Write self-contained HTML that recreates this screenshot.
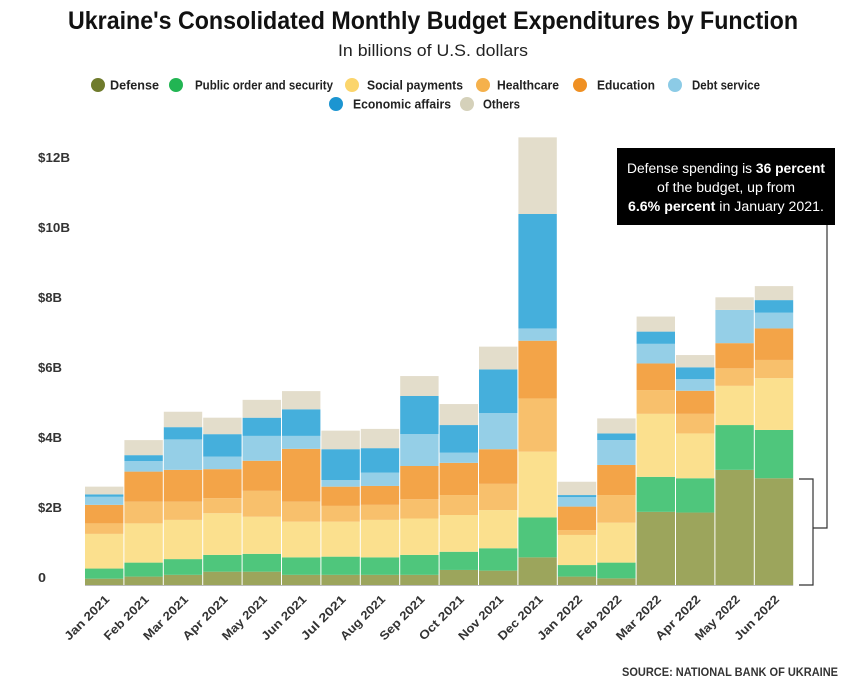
<!DOCTYPE html>
<html><head><meta charset="utf-8">
<style>
html,body{margin:0;padding:0;background:#fff;}
svg{display:block;font-family:"Liberation Sans Narrow","Liberation Sans",sans-serif;}
</style></head>
<body>
<svg id="chart" width="865" height="685" viewBox="0 0 865 685">
  <text x="433" y="29" text-anchor="middle" font-size="25" font-weight="bold" fill="#111" textLength="730" lengthAdjust="spacingAndGlyphs">Ukraine's Consolidated Monthly Budget Expenditures by Function</text>
  <text x="433" y="56" text-anchor="middle" font-size="17" fill="#222" textLength="190" lengthAdjust="spacingAndGlyphs">In billions of U.S. dollars</text>
  <g id="legend"></g>
  <g id="yaxis"></g>
  <g id="bars"></g>
  <g id="xaxis"></g>
  <g>
    <rect x="617" y="148" width="218" height="77" fill="#000"/>
    <text x="726" y="173" text-anchor="middle" font-size="13.5" fill="#fff" textLength="198" lengthAdjust="spacingAndGlyphs">Defense spending is <tspan font-weight="bold">36 percent</tspan></text>
    <text x="726" y="192" text-anchor="middle" font-size="13.5" fill="#fff" textLength="138" lengthAdjust="spacingAndGlyphs">of the budget, up from</text>
    <text x="726" y="211" text-anchor="middle" font-size="13.5" fill="#fff" textLength="196" lengthAdjust="spacingAndGlyphs"><tspan font-weight="bold">6.6% percent</tspan> in January 2021.</text>
    <polyline points="827,225 827,528 813,528" fill="none" stroke="#333" stroke-width="1.2"/>
    <polyline points="799,479 813,479 813,585 799,585" fill="none" stroke="#333" stroke-width="1.2"/>
  </g>
  <text x="838" y="676" text-anchor="end" font-size="12" font-weight="bold" fill="#333" textLength="216" lengthAdjust="spacingAndGlyphs">SOURCE: NATIONAL BANK OF UKRAINE</text>
</svg>
<script>
const months = ["Jan 2021","Feb 2021","Mar 2021","Apr 2021","May 2021","Jun 2021","Jul 2021","Aug 2021","Sep 2021","Oct 2021","Nov 2021","Dec 2021","Jan 2022","Feb 2022","Mar 2022","Apr 2022","May 2022","Jun 2022"];
const defense  = [0.18,0.24,0.29,0.38,0.38,0.29,0.29,0.29,0.29,0.43,0.41,0.79,0.24,0.19,2.09,2.07,3.29,3.05];
const publicOrder = [0.29,0.40,0.45,0.48,0.51,0.50,0.52,0.50,0.57,0.52,0.64,1.14,0.33,0.45,1.00,0.98,1.28,1.38];
const social   = [0.99,1.12,1.12,1.19,1.06,1.02,1.00,1.07,1.04,1.05,1.09,1.88,0.86,1.14,1.80,1.28,1.12,1.48];
const health   = [0.30,0.62,0.52,0.43,0.74,0.57,0.45,0.43,0.55,0.57,0.75,1.52,0.14,0.79,0.68,0.56,0.50,0.52];
const education= [0.53,0.86,0.91,0.83,0.86,1.51,0.55,0.54,0.95,0.92,0.99,1.65,0.67,0.86,0.76,0.66,0.72,0.90];
const debt     = [0.23,0.30,0.87,0.36,0.71,0.37,0.19,0.38,0.91,0.29,1.03,0.35,0.27,0.71,0.56,0.33,0.95,0.45];
const economic = [0.07,0.17,0.35,0.64,0.52,0.76,0.88,0.70,1.09,0.79,1.25,3.27,0.06,0.19,0.35,0.34,0.00,0.36];
const others   = [0.22,0.43,0.44,0.47,0.51,0.52,0.53,0.55,0.57,0.60,0.65,2.19,0.38,0.43,0.43,0.35,0.36,0.40];
const yTicks = [0,2,4,6,8,10,12];
const yTickLabels = ["0","$2B","$4B","$6B","$8B","$10B","$12B"];
const seriesNames = ["Defense","Public order and security","Social payments","Healthcare","Education","Debt service","Economic affairs","Others"];

const series = [defense,publicOrder,social,health,education,debt,economic,others];
const barColors = ["#9ca55c","#4fc67c","#fbe08e","#f8c06c","#f3a448","#95cfe7","#45afdc","#e3ddcb"];
const legendColors = ["#6f7b2c","#22b553","#fbd56c","#f5b14c","#ef9023","#8ccbe6","#1c95d1","#d5d1ba"];
const keys = ["defense","public-order","social-payments","healthcare","education","debt-service","economic-affairs","others"];
const NS="http://www.w3.org/2000/svg";
const base=585, perB=35, x0=85, pitch=39.4, bw=38.4;
function y(v){return base - v*perB;}
function x(i){return x0 + i*pitch;}
function mk(tag,attrs,parent){const e=document.createElementNS(NS,tag);for(const k in attrs)e.setAttribute(k,attrs[k]);parent.appendChild(e);return e;}

const yax=document.getElementById('yaxis');
yTicks.forEach((t,i)=>{
  const tx=mk('text',{x:38,y:y(t)-3,'font-size':13,'font-weight':'bold',fill:'#333',textLength:yTickLabels[i].length*8,lengthAdjust:'spacingAndGlyphs'},yax);
  
  
  tx.textContent=yTickLabels[i];
});

const bars=document.getElementById('bars');
months.forEach((m,i)=>{
  let cum=0;
  series.forEach((s,k)=>{
    const v=s[i]; if(v<=0) return;
    const r=mk('rect',{x:x(i),y:y(cum+v),width:bw,height:v*perB,fill:barColors[k]},bars);
    
    
    cum+=v;
  });
});
mk('line',{x1:x0,x2:x(17)+bw,y1:base+0.5,y2:base+0.5,stroke:'#bbb','stroke-width':1},bars);

const xax=document.getElementById('xaxis');
months.forEach((m,i)=>{
  const cx=x(i)+bw/2+6, cy=600;
  const t=mk('text',{x:cx,y:cy,'font-size':12,'font-weight':'bold',fill:'#333','text-anchor':'end',textLength:58,lengthAdjust:'spacingAndGlyphs',transform:`rotate(-45 ${cx} ${cy})`},xax);
  
  
  t.textContent=m;
});

const legend=document.getElementById('legend');
const legPos=[[98,85,110,49],[176,85,195,138],[352,85,367,96],[483,85,497,62],[580,85,597,58],[675,85,692,68],[336,104,353,98],[467,104,483,37]];
seriesNames.forEach((n,k)=>{
  const p=legPos[k];
  const c=mk('circle',{cx:p[0],cy:p[1],r:7,fill:legendColors[k]},legend);
  
  
  const t=mk('text',{x:p[2],y:p[1]+4.5,'font-size':12.5,'font-weight':'bold',fill:'#222',textLength:p[3],lengthAdjust:'spacingAndGlyphs'},legend);
  
  
  t.textContent=n;
});
</script>
</body></html>
